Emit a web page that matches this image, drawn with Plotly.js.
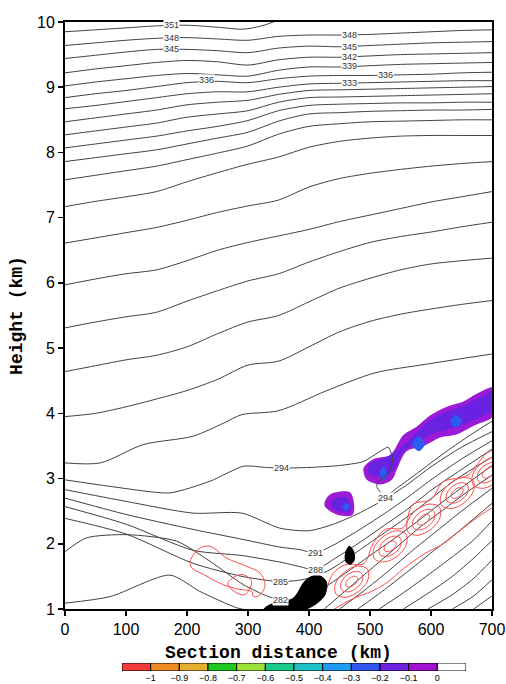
<!DOCTYPE html>
<html><head><meta charset="utf-8">
<script src="https://cdn.plot.ly/plotly-3.0.1.min.js"></script>
<style>body{margin:0;background:#fff}#chart{width:506px;height:684px}</style>
</head><body><div id="chart"></div>
<script>
// ---------- isentropes (theta, K) : heights (km) at section distances ----------
const XK = [0,50,100,150,200,250,300,350,400,450,500,550,600,650,700];
const X351 = [0,50,100,150,200,250,292,322,345,360];
const H351 = [9.85,9.88,9.91,9.94,9.95,9.92,9.89,9.94,10.01,10.05];
const H348 = [9.64,9.68,9.72,9.75,9.76,9.74,9.72,9.78,9.80,9.80,9.81,9.83,9.85,9.87,9.88];
const H345 = [9.44,9.49,9.54,9.58,9.58,9.56,9.53,9.60,9.63,9.62,9.64,9.66,9.68,9.69,9.70];
const H342 = [9.22,9.28,9.33,9.38,9.41,9.39,9.34,9.42,9.46,9.46,9.48,9.50,9.51,9.52,9.53];
const H339 = [9.02,9.08,9.13,9.18,9.21,9.19,9.17,9.26,9.31,9.31,9.33,9.35,9.36,9.37,9.38];
const H336 = [8.84,8.90,8.95,9.01,9.07,9.09,9.07,9.13,9.17,9.18,9.18,9.19,9.20,9.22,9.23];
const H333 = [8.67,8.72,8.78,8.84,8.90,8.93,8.93,9.00,9.05,9.06,9.07,9.08,9.09,9.10,9.10];
const H330 = [8.47,8.53,8.59,8.65,8.73,8.77,8.80,8.89,8.95,8.96,8.97,8.98,8.99,9.00,9.01];
const H327 = [8.27,8.33,8.39,8.45,8.54,8.59,8.64,8.77,8.84,8.85,8.86,8.87,8.88,8.89,8.90];
const H324 = [8.07,8.13,8.19,8.25,8.33,8.40,8.49,8.64,8.72,8.74,8.75,8.76,8.76,8.77,8.77];
const H321 = [7.86,7.92,7.98,8.04,8.13,8.22,8.31,8.48,8.59,8.61,8.63,8.64,8.65,8.65,8.66];
const H318 = [7.58,7.65,7.72,7.79,7.89,7.99,8.10,8.28,8.40,8.44,8.47,8.48,8.49,8.50,8.50];
const H315 = [7.17,7.25,7.32,7.40,7.55,7.69,7.82,7.93,8.08,8.17,8.22,8.25,8.26,8.26,8.26];
const H312 = [6.61,6.69,6.77,6.85,6.96,7.08,7.18,7.27,7.47,7.60,7.68,7.74,7.79,7.83,7.86];
const H309 = [5.97,6.06,6.14,6.20,6.34,6.50,6.62,6.72,6.82,6.94,7.04,7.14,7.24,7.32,7.40];
const H306 = [5.31,5.40,5.48,5.55,5.72,5.88,6.03,6.14,6.32,6.48,6.62,6.71,6.78,6.86,6.93];
const H303 = [4.64,4.73,4.82,4.89,5.02,5.22,5.40,5.50,5.71,5.92,6.07,6.20,6.29,6.34,6.38];
const H300 = [3.95,4.00,4.10,4.22,4.35,4.52,4.74,4.80,5.02,5.25,5.41,5.52,5.60,5.67,5.73];
const X297 = [0,58,128,210,260,290,350,427,508,590,700];
const H297 = [3.24,3.24,3.52,3.65,3.85,3.98,4.04,4.34,4.62,4.75,4.91];
const X294 = [0,74,172,238,293,330,355,400,450,489,517,530,537,533,525,514,511,518,525,545,580,620,660,700];
const H294 = [2.98,2.88,2.78,2.96,3.19,3.17,3.16,3.17,3.20,3.26,3.42,3.48,3.31,3.14,3.03,2.96,2.88,2.78,2.73,2.86,3.10,3.38,3.64,3.88];
// frontal-zone isentropes (left part descends, right part climbs along the front)
const XD = [0,100,210,290,352,400,440,480,520,560,600,650,700];
const HD = [2.83,2.65,2.47,2.47,2.24,2.20,2.30,2.46,2.66,2.90,3.18,3.48,3.72];
const XE = [0,100,210,290,352,385,410,440,480,520,560,600,650,700];
const HE = [2.70,2.45,2.22,2.07,1.95,1.91,1.86,1.98,2.20,2.44,2.70,2.98,3.30,3.58];
const XF = [0,100,210,290,352,385,410,440,480,520,560,600,650,700];
const HF = [2.57,2.30,1.90,1.82,1.72,1.65,1.60,1.76,2.00,2.26,2.52,2.82,3.14,3.45];
const XG = [0,100,210,290,331,352,390,430,470,510,550,590,640,700];
const HG = [2.39,2.15,1.70,1.50,1.44,1.42,1.45,1.58,1.82,2.08,2.34,2.62,2.98,3.33];
const XH = [0,35,101,183,238,293,331,352,385,420,460,500,540,580,630,700];
const HH = [1.88,2.09,2.14,2.04,1.73,1.37,1.20,1.14,1.16,1.30,1.55,1.82,2.08,2.36,2.72,3.20];
const XI = [0,74,172,221,281,300];
const HI = [1.09,1.19,1.52,1.27,1.02,0.98];
// cold-air isentropes rising from the ground toward the right edge
const XK1 = [425,460,500,540,580,620,660,700], HK1 = [1.0,1.28,1.6,1.92,2.24,2.52,2.8,3.05];
const XK2 = [450,490,530,570,610,650,700],     HK2 = [1.0,1.28,1.58,1.9,2.2,2.5,2.85];
const XK3 = [480,520,560,600,640,700],         HK3 = [1.0,1.27,1.56,1.86,2.15,2.62];
const XK4 = [515,555,595,635,670,700],         HK4 = [1.0,1.25,1.52,1.8,2.06,2.35];
const XK5 = [555,595,635,670,700],             HK5 = [1.0,1.24,1.5,1.78,2.05];
const XK6 = [595,635,670,700],                 HK6 = [1.0,1.22,1.47,1.75];
const XK7 = [635,670,700],                     HK7 = [1.0,1.2,1.45];
const XK8 = [670,700],                         HK8 = [1.0,1.2];

// contour labels
const LBL_X = [175,175,175,232,467,467,467,467,525,467,355,525,410,410,353,353];
const LBL_H = [9.95,9.76,9.59,9.11,9.80,9.62,9.46,9.32,9.18,9.06,3.16,2.70,1.86,1.60,1.42,1.14];
const LBL_T = ['351','348','345','336','348','345','342','339','336','333','294','294','291','288','285','282'];

// ---------- shaded field (negative values), polygons [km, km] ----------
const PURPLE_BAND = [[489,3.14],[495,2.98],[517,2.91],[536,2.98],[544,3.14],[560,3.42],[588,3.50],[615,3.63],[643,3.68],[670,3.81],[705,3.98],[705,4.40],[675,4.30],[653,4.18],[626,4.10],[599,3.97],[577,3.80],[555,3.67],[533,3.36],[506,3.30],[492,3.20]];
const PURPLE_BLOB = [[426,2.65],[435,2.76],[467,2.79],[474,2.60],[471,2.44],[448,2.44],[426,2.57]];
const VIOLET_BAND = [[497,3.08],[520,3.03],[538,3.12],[552,3.38],[575,3.55],[600,3.68],[630,3.76],[660,3.86],[705,4.08],[705,4.32],[675,4.22],[650,4.10],[625,4.02],[600,3.90],[578,3.72],[560,3.55],[540,3.40],[520,3.30],[500,3.24]];
const VIOLET_BLOB = [[437,2.66],[458,2.72],[468,2.62],[466,2.49],[450,2.49],[437,2.57]];
const BLUE_SPOTS = [
  [[522,3.19],[528,3.08],[522,2.96],[516,3.08]],
  [[580,3.65],[590,3.53],[580,3.42],[569,3.53]],
  [[641,3.98],[651,3.88],[641,3.78],[632,3.88]],
  [[461,2.63],[467,2.57],[461,2.51],[455,2.57]]
];
// black (saturated) patches
const BLACK_PATCHES = [
  [[355,1.04],[377,1.20],[390,1.40],[399,1.48],[415,1.53],[429,1.42],[427,1.22],[410,1.06],[394,0.99],[375,0.99]],
  [[466,1.97],[474,1.88],[475,1.75],[468,1.68],[460,1.72],[459,1.85]],
  [[325,0.99],[335,1.07],[350,1.10],[368,1.06],[380,0.99]]
];
// red contours (closed rings and band outlines)
const RED_C1 = [
 [[478.96,1.488],[479.25,1.434],[474.12,1.372],[466.57,1.338],[461.04,1.352],[460.75,1.406],[465.88,1.468],[473.43,1.502]],
 [[486.6,1.546],[487.6,1.441],[478.24,1.324],[464.07,1.263],[453.4,1.294],[452.4,1.399],[461.76,1.516],[475.93,1.577]],
 [[495.6,1.613],[496.84,1.455],[482.36,1.276],[460.64,1.18],[444.4,1.227],[443.16,1.385],[457.64,1.564],[479.36,1.658]]];
const RED_C2 = [
 [[541.96,2.028],[542.25,1.974],[537.12,1.912],[529.57,1.878],[524.04,1.892],[523.75,1.946],[528.88,2.008],[536.43,2.042]],
 [[549.6,2.086],[550.6,1.981],[541.24,1.864],[527.07,1.803],[516.4,1.834],[515.4,1.939],[524.76,2.056],[538.93,2.117]],
 [[558.6,2.153],[559.84,1.995],[545.36,1.816],[523.64,1.72],[507.4,1.767],[506.16,1.925],[520.64,2.104],[542.36,2.198]]];
const RED_C3 = [
 [[596.96,2.438],[597.25,2.384],[592.12,2.322],[584.57,2.288],[579.04,2.302],[578.75,2.356],[583.88,2.418],[591.43,2.452]],
 [[604.6,2.496],[605.6,2.391],[596.24,2.274],[582.07,2.213],[571.4,2.244],[570.4,2.349],[579.76,2.466],[593.93,2.527]],
 [[613.6,2.563],[614.84,2.405],[600.36,2.226],[578.64,2.13],[562.4,2.177],[561.16,2.335],[575.64,2.514],[597.36,2.608]]];
const RED_C4 = [
 [[651.96,2.848],[652.25,2.794],[647.12,2.732],[639.57,2.698],[634.04,2.712],[633.75,2.766],[638.88,2.828],[646.43,2.862]],
 [[659.6,2.906],[660.6,2.801],[651.24,2.684],[637.07,2.623],[626.4,2.654],[625.4,2.759],[634.76,2.876],[648.93,2.937]],
 [[668.6,2.973],[669.84,2.815],[655.36,2.636],[633.64,2.541],[617.4,2.587],[616.16,2.745],[630.64,2.924],[652.36,3.018]]];
const RED_C5 = [
 [[702.96,3.158],[703.25,3.104],[698.12,3.042],[690.57,3.008],[685.04,3.022],[684.75,3.076],[689.88,3.138],[697.43,3.172]],
 [[710.6,3.216],[711.6,3.111],[702.24,2.994],[688.07,2.933],[677.4,2.964],[676.4,3.069],[685.76,3.186],[699.93,3.247]],
 [[720.6,3.283],[721.84,3.125],[707.36,2.946],[685.64,2.851],[669.4,2.897],[668.16,3.055],[682.64,3.234],[704.36,3.328]]];
const RED_LEFT = [
 [[205,1.73],[221.5,1.935],[238,1.96],[265,1.78],[298,1.654],[320,1.55],[328,1.37],[320,1.22],[309,1.19],[306,1.27],[287,1.30],[260,1.37],[227,1.53],[208,1.63]],
 [[268,1.42],[290,1.53],[306,1.42],[295,1.22],[282,1.245],[268,1.35]]];
const RED_UPPER = [[426,1.22],[440,1.55],[460,1.68],[490,1.70],[505,2.0],[525,2.22],[555,2.25],[570,2.6],[600,2.68],[620,2.95],[660,3.05],[690,3.38],[705,3.45]];
const RED_LOWER = [[440,0.99],[470,1.15],[505,1.28],[530,1.42],[555,1.62],[590,1.85],[620,2.0],[650,2.22],[680,2.43],[705,2.58]];

// ---------- colour scale ----------
const CB_COLORS = ['#f53a3a','#f08a23','#e6ae2e','#1ec81e','#9fe23a','#19cc8c','#1ec3c8','#1f9cf2','#2f55f0','#6e22e0','#a014d0','#ffffff'];
const CB_LABELS = ['\u22121','\u22120.9','\u22120.8','\u22120.7','\u22120.6','\u22120.5','\u22120.4','\u22120.3','\u22120.2','\u22120.1','0'];

// ---------- build ----------
const traces = [];
function poly(pts, color) {
  const closed = pts.concat([pts[0]]);
  traces.push({type:'scatter', mode:'lines', x:closed.map(p=>p[0]), y:closed.map(p=>p[1]),
    fill:'toself', fillcolor:color, line:{color:color, width:0, shape:'spline', smoothing:0.9},
    hoverinfo:'skip', showlegend:false});
}
poly(PURPLE_BAND, '#9c1bd6');
poly(PURPLE_BLOB, '#9c1bd6');
poly(VIOLET_BAND, '#6a22e2');
poly(VIOLET_BLOB, '#6a22e2');
BLUE_SPOTS.forEach(s => poly(s, '#2a5cf2'));

function iso(x, h, sm) {
  traces.push({type:'scatter', mode:'lines', x:x, y:h,
    line:{color:'#404040', width:1, shape:'spline', smoothing:sm||0.8}, hoverinfo:'skip', showlegend:false});
}
iso(X351, H351);
[H348,H345,H342,H339,H336,H333,H330,H327,H324,H321,H318,H315,H312,H309,H306,H303,H300].forEach(h => iso(XK, h));
iso(X297,H297); iso(X294,H294,0.6);
iso(XD,HD,0.7); iso(XE,HE,0.7); iso(XF,HF,0.7); iso(XG,HG,0.7); iso(XH,HH,0.7); iso(XI,HI,0.7);
[[XK1,HK1],[XK2,HK2],[XK3,HK3],[XK4,HK4],[XK5,HK5],[XK6,HK6],[XK7,HK7],[XK8,HK8]].forEach(p => iso(p[0],p[1],0.7));

function redLine(pts, closed) {
  const p = closed ? pts.concat([pts[0]]) : pts;
  traces.push({type:'scatter', mode:'lines', x:p.map(q=>q[0]), y:p.map(q=>q[1]),
    line:{color:'#ff4a4a', width:1, shape:'spline', smoothing:1}, hoverinfo:'skip', showlegend:false});
}
[RED_C1,RED_C2,RED_C3,RED_C4,RED_C5,RED_LEFT].forEach(g => g.forEach(r => redLine(r, true)));
redLine(RED_UPPER, false); redLine(RED_LOWER, false);

BLACK_PATCHES.forEach(b => poly(b, '#000000'));

// colour bar as bars on its own small axis
traces.push({type:'bar', x:CB_COLORS.map((c,i)=>i+0.5), y:CB_COLORS.map(()=>1), width:1,
  marker:{color:CB_COLORS, line:{color:'#000', width:1}}, xaxis:'x2', yaxis:'y2',
  hoverinfo:'skip', showlegend:false});

const annotations = LBL_T.map((t,i)=>({x:LBL_X[i], y:LBL_H[i], xref:'x', yref:'y', text:t, showarrow:false,
  font:{family:'Liberation Sans, Arial, sans-serif', size:9, color:'#333'}, bgcolor:'#ffffff', borderpad:0}));

const axisFont = {family:'Liberation Sans, Arial, sans-serif', size:16, color:'#000'};
const titleFont = {family:'Liberation Mono, Courier New, monospace', size:18, color:'#000', weight:'bold'};
const layout = {
  width:506, height:684, margin:{l:65, r:14, t:22, b:5},
  paper_bgcolor:'#fff', plot_bgcolor:'#fff', showlegend:false, bargap:0,
  xaxis:{domain:[0,1], range:[0,700], anchor:'y', tickvals:[0,100,200,300,400,500,600,700],
    ticks:'outside', ticklen:5, tickwidth:1.5, tickcolor:'#000', showline:true, linewidth:2, linecolor:'#000',
    mirror:true, showgrid:false, zeroline:false, tickfont:axisFont,
    title:{text:'Section distance (km)', font:titleFont, standoff:8}},
  yaxis:{domain:[0.10654,1], range:[1,10], anchor:'x', tickvals:[1,2,3,4,5,6,7,8,9,10],
    ticks:'outside', ticklen:5, tickwidth:1.5, tickcolor:'#000', showline:true, linewidth:2, linecolor:'#000',
    mirror:true, showgrid:false, zeroline:false, tickfont:axisFont,
    title:{text:'Height (km)', font:titleFont, standoff:10}},
  xaxis2:{domain:[0.1335,0.9391], range:[0,12], anchor:'y2', tickvals:[1,2,3,4,5,6,7,8,9,10,11],
    ticktext:CB_LABELS, ticks:'', showline:false, showgrid:false, zeroline:false,
    tickfont:{family:'Liberation Sans, Arial, sans-serif', size:9, color:'#000'}},
  yaxis2:{domain:[0.0122,0.0244], range:[0,1], anchor:'x2', visible:false},
  annotations:annotations
};
Plotly.newPlot('chart', traces, layout, {staticPlot:true, displayModeBar:false});
</script></body></html>
